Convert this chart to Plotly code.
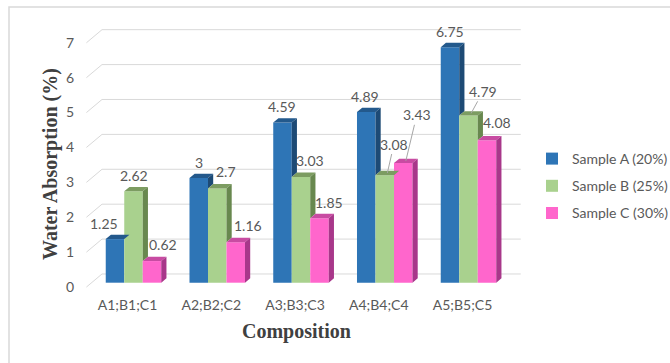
import plotly.graph_objects as go

# ---- data ----
categories = ["A1;B1;C1", "A2;B2;C2", "A3;B3;C3", "A4;B4;C4", "A5;B5;C5"]
series_names = ["Sample A (20%)", "Sample B (25%)", "Sample C (30%)"]
sample_a = [1.25, 3, 4.59, 4.89, 6.75]
sample_b = [2.62, 2.7, 3.03, 3.08, 4.79]
sample_c = [0.62, 1.16, 1.85, 3.43, 4.08]
y_ticks = [0, 1, 2, 3, 4, 5, 6, 7]

series = [sample_a, sample_b, sample_c]

# ---- styling ----
FRONT = ["#2E75B6", "#A9D18E", "#FF66CC"]
TOP = ["#23598C", "#7C9C61", "#C84BA2"]
SIDE = ["#1D4A75", "#68884F", "#A8378A"]
TEXT = "#595959"
GRID = "#D9D9D9"
SANS = "Lato, Liberation Sans, sans-serif"
SERIF = "Liberation Serif, Times New Roman, serif"
FS = 14

# pseudo-3D geometry (axis units)
BAR_W = 0.221          # width of one column
OFFSETS = [-BAR_W, 0.0, BAR_W]
DX = 0.062             # horizontal depth step
DY = 0.125             # vertical depth step

# plot-area box in pixels
W, H = 670, 363
L, R, T, B = 78, 530, 15, 292
PX_X = 83.75           # pixels per category
PX_Y = 34.9            # pixels per y unit
x_rng = [(L - 133.5) / PX_X, (R - 133.5) / PX_X]
y2_lo = -(B - 282.7) / PX_Y
y2_rng = [y2_lo, y2_lo + (B - T) / PX_Y]
y1_rng = [y2_rng[0] + DY, y2_rng[1] + DY]

# label placement (pixel offsets from column top; leader=True draws a line)
label_pos = [
    [(-11, -16, False), (0, -16, False), (0, -16, False), (-1, -16, False), (0, -15.5, False)],
    [(0, -16, False), (9, -17, False), (9, -16, False), (6.6, -29, True), (12, -22, True)],
    [(11, -17, False), (12, -17, False), (9.5, -16, False), (11, -46, True), (10, -18, False)],
]

fig = go.Figure()

# back-wall gridlines with their receding floor segments
gx, gy = [], []
n = len(categories)
for v in y_ticks:
    gx += [-0.5 - DX, -0.5 + 2 * DX, n - 0.5 + 2 * DX, None]
    gy += [v, v + 3 * DY, v + 3 * DY, None]
fig.add_trace(go.Scatter(x=gx, y=gy, mode="lines", line=dict(color=GRID, width=1),
                         hoverinfo="skip", showlegend=False, xaxis="x", yaxis="y"))

# front faces of the columns
for s, vals in enumerate(series):
    fig.add_trace(go.Bar(
        x=[i + OFFSETS[s] for i in range(n)], y=vals, width=BAR_W,
        name=series_names[s], legendgroup=f"g{s}",
        marker=dict(color=FRONT[s], line=dict(width=0)),
        xaxis="x", yaxis="y2"))

# top and side faces
h = BAR_W / 2
for s, vals in enumerate(series):
    tx, ty, sx, sy = [], [], [], []
    for i, v in enumerate(vals):
        c = i + OFFSETS[s]
        tx += [c - h, c - h + DX, c + h + DX, c + h, c - h, None]
        ty += [v, v + DY, v + DY, v, v, None]
        low = min(v, series[s + 1][i]) if s < len(series) - 1 else 0.0
        if v > low:
            sx += [c + h, c + h, c + h + DX, c + h + DX, c + h, None]
            sy += [low, v, v + DY, low + DY, low, None]
    fig.add_trace(go.Scatter(x=tx, y=ty, mode="lines", fill="toself", fillcolor=TOP[s],
                             line=dict(width=0), hoverinfo="skip", showlegend=False,
                             xaxis="x", yaxis="y2"))
    if sx:
        fig.add_trace(go.Scatter(x=sx, y=sy, mode="lines", fill="toself", fillcolor=SIDE[s],
                                 line=dict(width=0), hoverinfo="skip", showlegend=False,
                                 xaxis="x", yaxis="y2"))

# data labels
annotations = []
for s, vals in enumerate(series):
    for i, v in enumerate(vals):
        dx, dy, leader = label_pos[s][i]
        c = i + OFFSETS[s]
        if leader:
            annotations.append(dict(
                x=c + DX / 2, y=v + DY / 2, xref="x", yref="y2", text=f"{v:g}",
                showarrow=True, arrowhead=0, arrowwidth=1, arrowcolor="#A6A6A6",
                ax=dx, ay=dy, standoff=0, font=dict(family=SANS, size=FS, color=TEXT)))
        else:
            annotations.append(dict(
                x=c, y=v, xref="x", yref="y2", text=f"{v:g}", showarrow=False,
                xanchor="center", yanchor="middle",
                xshift=dx, yshift=-dy, font=dict(family=SANS, size=FS, color=TEXT)))

# axis titles
annotations.append(dict(
    x=(50 - L) / (R - L), y=(B - 164) / (B - T), xref="paper", yref="paper",
    xanchor="center", yanchor="middle",
    text="Water Absorption (%)", textangle=-90, showarrow=False,
    font=dict(family=SERIF, size=20, color="#404040", weight="bold")))
annotations.append(dict(
    x=(296 - L) / (R - L), y=(B - 331.7) / (B - T), xref="paper", yref="paper",
    xanchor="center", yanchor="middle",
    text="Composition", showarrow=False,
    font=dict(family=SERIF, size=20, color="#404040", weight="bold")))

fig.update_layout(
    width=W, height=H,
    margin=dict(l=L, r=W - R, t=T, b=H - B, pad=0, autoexpand=False),
    paper_bgcolor="white", plot_bgcolor="white",
    barmode="overlay",
    showlegend=True,
    legend=dict(xref="container", yref="container",
                x=532 / W, xanchor="left", y=1 - 143 / H, yanchor="top",
                font=dict(family=SANS, size=FS, color=TEXT),
                traceorder="grouped", tracegroupgap=6, itemclick=False,
                bgcolor="rgba(0,0,0,0)"),
    xaxis=dict(range=x_rng, tickvals=list(range(n)), ticktext=categories,
               showgrid=False, zeroline=False, showline=False, ticks="",
               ticklabelshift=-6, ticklabelstandoff=3,
               tickfont=dict(family=SANS, size=FS, color=TEXT)),
    yaxis=dict(range=y1_rng, tickvals=y_ticks, showgrid=False, zeroline=False,
               showline=False, ticks="", ticklabelstandoff=3,
               tickfont=dict(family=SANS, size=FS, color=TEXT)),
    yaxis2=dict(range=y2_rng, overlaying="y", visible=False),
    annotations=annotations,
    shapes=[dict(type="rect", xref="paper", yref="paper",
                 x0=(9 - L) / (R - L), x1=(690 - L) / (R - L),
                 y0=(B - 7) / (B - T), y1=(B - 380) / (B - T),
                 line=dict(color=GRID, width=1.5), fillcolor="rgba(0,0,0,0)", layer="below")],
)

fig.write_html("out.html")
